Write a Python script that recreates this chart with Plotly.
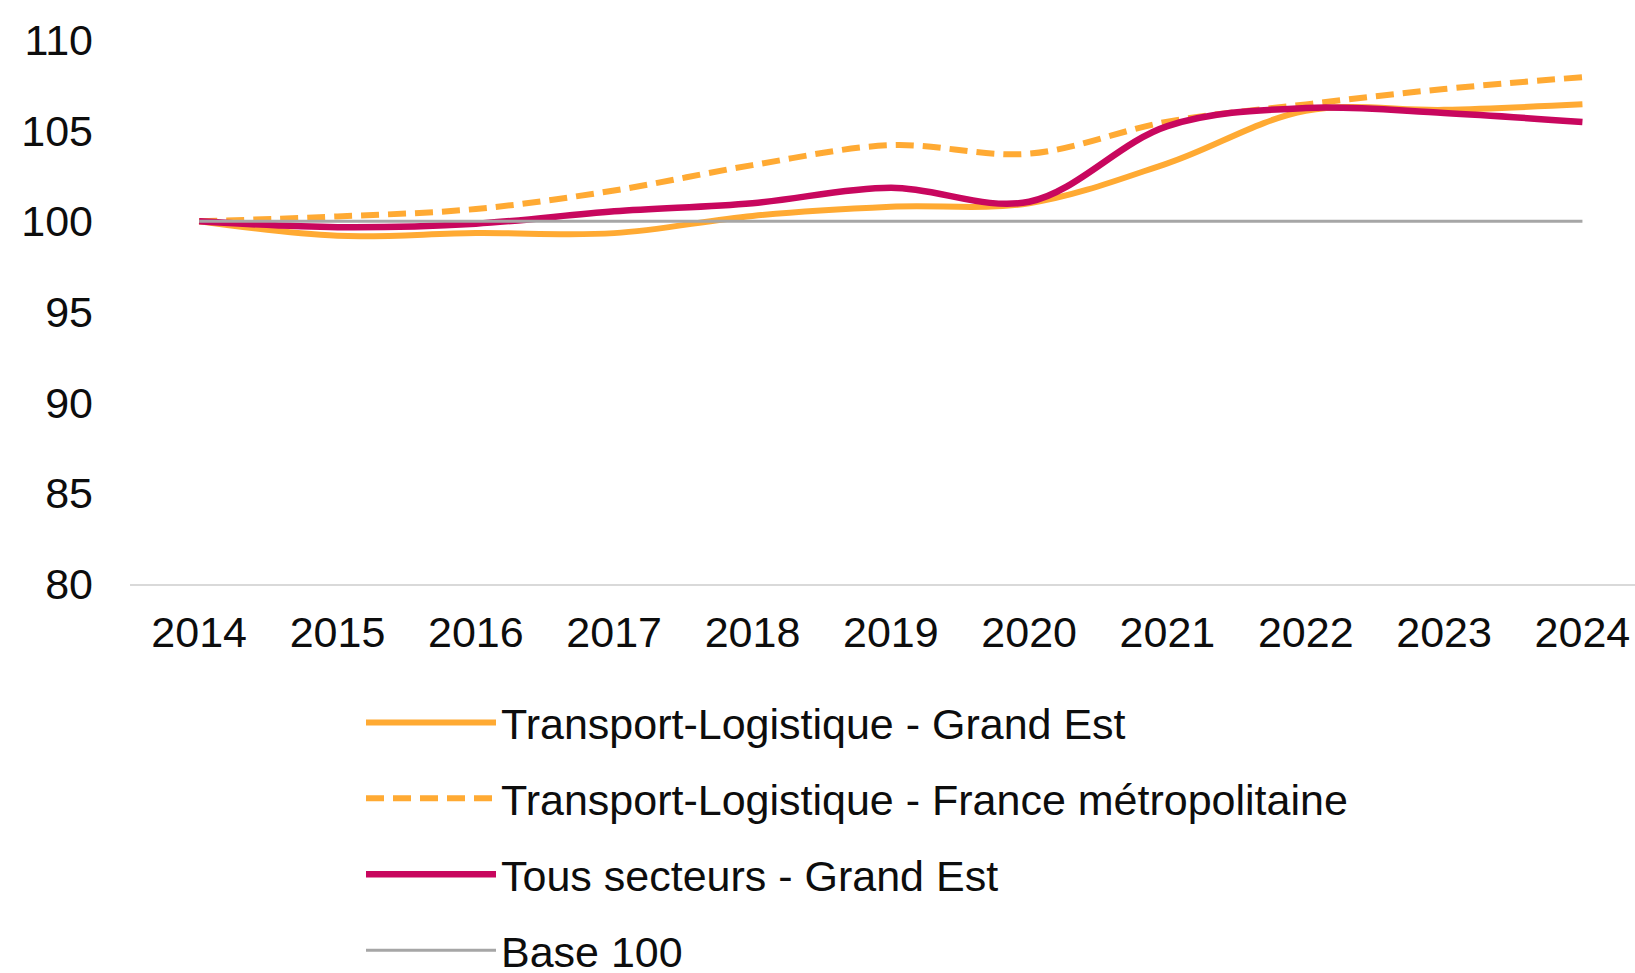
import plotly.graph_objects as go

years = ["2014", "2015", "2016", "2017", "2018", "2019", "2020", "2021", "2022", "2023", "2024"]
tl_grand_est = [100.0, 99.2, 99.35, 99.35, 100.3, 100.8, 101.0, 103.2, 106.1, 106.15, 106.45]
tl_france = [100.0, 100.27, 100.68, 101.7, 103.1, 104.2, 103.73, 105.5, 106.45, 107.3, 107.95]
tous_grand_est = [100.0, 99.68, 99.87, 100.55, 101.0, 101.85, 101.08, 105.25, 106.25, 105.97, 105.48]
base_100 = [100] * len(years)

y_ticks = [80, 85, 90, 95, 100, 105, 110]

ORANGE = "#FFAA33"
MAGENTA = "#C8075E"
GRAY = "#A6A6A6"
FONT = "Liberation Sans, Arial, sans-serif"

fig = go.Figure()
fig.add_trace(go.Scatter(x=years, y=tl_grand_est, mode="lines", name="Transport-Logistique - Grand Est",
                         line=dict(color=ORANGE, width=6, shape="spline"), legendgroup="a"))
fig.add_trace(go.Scatter(x=years, y=tl_france, mode="lines", name="Transport-Logistique - France métropolitaine",
                         line=dict(color=ORANGE, width=6, shape="spline", dash="18px,9px"), legendgroup="b"))
fig.add_trace(go.Scatter(x=years, y=tous_grand_est, mode="lines", name="Tous secteurs - Grand Est",
                         line=dict(color=MAGENTA, width=6.5, shape="spline"), legendgroup="c"))
fig.add_trace(go.Scatter(x=years, y=base_100, mode="lines", name="Base 100",
                         line=dict(color=GRAY, width=3), legendgroup="d"))

fig.update_layout(
    width=1635, height=973,
    margin=dict(l=130, r=0, t=40, b=389, autoexpand=False),
    paper_bgcolor="white", plot_bgcolor="white",
    font=dict(family=FONT, size=43, color="#0D0D0D"),
    showlegend=True,
    legend=dict(
        xref="container", yref="container",
        x=361 / 1635, y=1 - 688 / 973, xanchor="left", yanchor="top",
        orientation="v", tracegroupgap=17, itemwidth=130,
        font=dict(family=FONT, size=43, color="#0D0D0D"),
        bgcolor="rgba(0,0,0,0)",
    ),
    xaxis=dict(
        type="category", range=[-0.5, 10.38], showgrid=False,
        showline=True, linecolor="#D9D9D9", linewidth=2,
        ticks="", ticklabelstandoff=9, tickangle=0,
        tickfont=dict(family=FONT, size=43, color="#0D0D0D"),
    ),
    yaxis=dict(
        range=[80, 110], tickvals=y_ticks, showgrid=False, zeroline=False,
        showline=False, ticks="", ticklabelstandoff=36,
        tickfont=dict(family=FONT, size=43, color="#0D0D0D"),
    ),
)

fig.write_html("out.html")
